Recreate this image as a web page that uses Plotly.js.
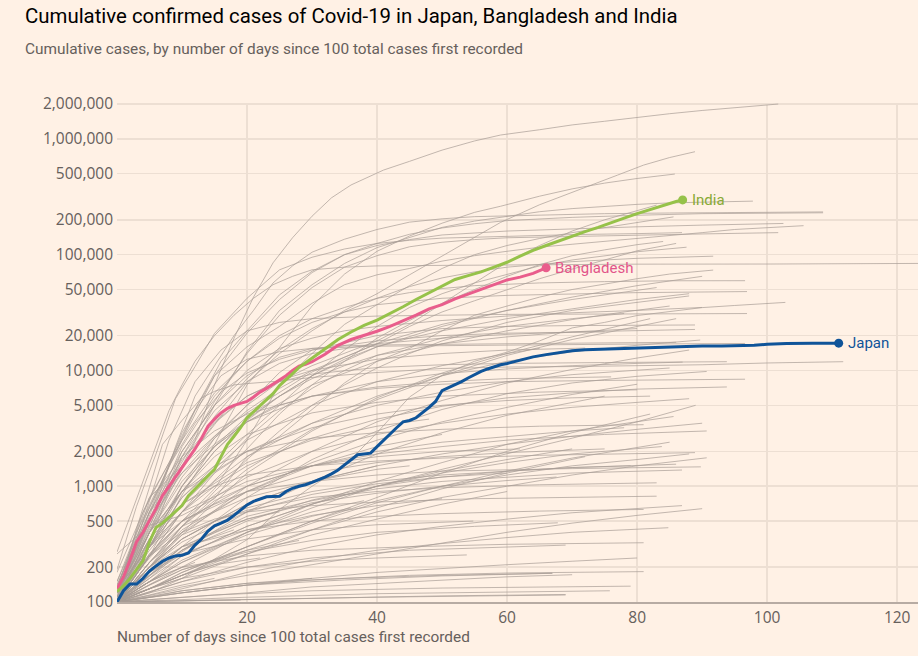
<!DOCTYPE html>
<html>
<head>
<meta charset="utf-8">
<script src="https://cdn.plot.ly/plotly-3.0.1.min.js"></script>
<style>html,body{margin:0;padding:0;background:#fff1e5;}#chart{width:918px;height:656px;}</style>
</head>
<body>
<div id="chart"></div>
<script>
// ---- Highlighted countries ----
const japanDays = [0,1,2,3,4,5,6,7,8,9,10,11,12,13,14,15,16,17,18,19,20,21,22,23,24,25,26,27,28,29,30,31,32,33,34,35,36,37,38,39,40,41,42,43,44,45,46,47,48,49,50,51,52,53,54,55,56,57,58,59,60,62,64,66,68,70,72,75,78,81,84,87,90,93,96,98,100,103,107,111];
const japanCases = [100,125,143,143,160,185,205,225,240,250,253,265,310,350,410,455,480,510,560,620,690,740,780,810,815,820,900,960,1000,1030,1080,1130,1200,1280,1380,1530,1700,1870,1900,1930,2200,2500,2850,3200,3600,3700,3900,4300,4800,5400,6700,7100,7500,8000,8600,9200,9800,10300,10800,11200,11500,12300,13100,13700,14200,14800,15100,15300,15600,15800,16000,16200,16250,16300,16300,16500,16800,17100,17150,17200];

const indiaDays = [0,1,2,3,4,5,6,7,8,9,10,11,12,13,14,15,16,17,18,19,20,21,22,23,24,25,26,27,28,30,32,34,36,38,40,42,44,46,48,50,52,54,56,58,60,62,64,66,68,70,72,74,76,78,80,82,84,86,87];
const indiaCases = [123,138,160,190,227,330,440,480,540,610,680,830,950,1070,1220,1400,1800,2300,2700,3200,3900,4400,5000,5600,6300,7400,8400,9400,10600,12700,15200,18500,21500,24500,27200,31000,35500,41000,47000,54000,61000,66000,71000,78000,86000,97000,109000,120000,132000,145000,158000,172000,190000,207000,226000,246000,266000,288000,297000];

const bangladeshDays = [0,1,2,3,4,5,6,7,8,9,10,11,12,13,14,15,16,17,18,19,20,21,22,23,24,25,26,27,28,29,30,32,34,36,38,40,42,44,46,48,50,52,54,56,58,60,62,64,66];
const bangladeshCases = [130,165,230,330,400,500,640,830,1000,1200,1450,1750,2100,2600,3300,3800,4300,4700,5000,5200,5400,5900,6500,7000,7600,8200,9000,10000,10900,11300,11900,13800,16500,18500,20000,21800,24000,26800,30000,34000,37000,41500,45500,50000,55000,60500,64000,69000,77000];

// ---- Background countries (grey) ----
const greyDays = [
 [0,3,6,9,12,15,18,21,24,27,30,33,36,41,45,50,55,59,65,70,75,80,85,90,95,101.7],
 [0,5,10,15,20,25,30,35,40,45,50,55,59,65,71,77,81,85,88.9],
 [0,5,10,15,20,25,30,35,40,45,50,55,59,65,70,75,80,85.8],
 [0,5,10,15,20,25,30,35,40,45,50,55,60,65,70,75,80,85,90,97.8],
 [0,3,6,9,12,15,18,21,24,27,30,35,40,45,50,55,65,75,85,95,108.6],
 [0,5,10,15,20,25,30,35,40,45,50,55,60,70,80,90,108.6],
 [0,4,8,12,16,20,25,30,35,40,45,50,60,70,80,90,102.5],
 [0,5,10,15,20,25,30,35,40,45,50,55,60,65,70,75,80,85,90,95,105.6],
 [0,5,10,15,20,25,30,35,40,45,50,55,60,70,80,90,101.7],
 [0,3,6,9,12,15,20,25,30,35,40,45,50,60,70,80,86.9],
 [0,2,4,6,8,10,12,15,18,21,24,27,30,35,40,50,60,80,100,123.2],
 [0,5,10,15,20,25,30,35,40,45,50,55,60,65,70,75,80,85.6],
 [0,5,10,15,20,25,30,35,40,45,50,55,60,65,70,75,80,83],
 [0,5,10,15,20,25,30,35,40,45,50,55,60,65,70,75,80,87.6],
 [0,5,10,15,20,25,30,35,40,45,50,55,60,70,80,91.7],
 [0,5,10,20,25,30,35,40,45,50,55,60,65,70,75,80,84],
 [0,5,10,15,20,25,30,35,40,45,50,55,60,65,70,75,80,86],
 [0,5,10,15,20,25,30,35,40,45,50,55,60,65,70,75,80,85,91.7],
 [0,5,10,15,20,25,30,35,40,45,50,55,65,75,85,96.6],
 [0,5,10,15,20,25,30,35,40,50,60,70,80,96.9],
 [0,10,20,25,30,35,40,45,50,55,60,65,70,75,80,85,90,95,102.8],
 [0,4,8,12,16,20,25,30,40,60,80,96.9],
 [0,3,5,7,10,13,15,18,20,25,30,40,50,60,70,80,90,100,111.7],
 [0,5,10,15,20,25,30,35,40,45,50,55,60,65,70,75,80,88],
 [0,5,10,15,20,25,30,35,40,50,60,70,80,90],
 [0,4,8,12,16,20,25,30,40,60,80,96.6],
 [0,5,10,15,20,25,30,35,40,60,86],
 [0,5,10,15,20,25,30,40,50,60,70,88.9],
 [0,5,10,15,20,25,30,40,50,60,70,88.9],
 [0,5,10,15,20,30,40,50,60,70,80,89.7],
 [0,5,10,15,20,25,30,35,40,45,50,60,70,80,88],
 [0,5,10,15,20,30,40,50,60,70,78,85],
 [0,5,10,20,30,40,50,60,70,82],
 [0,5,10,15,20,25,30,40,50,60,70,83],
 [0,5,10,15,20,30,40,50,60,70,80,90],
 [0,5,10,15,20,25,30,40,50,60,75,93.8],
 [0,5,10,15,20,30,40,50,60,70,80,90.7],
 [0,5,10,15,20,25,30,40,50,60,75,96.6],
 [0,5,10,15,20,30,40,50,60,70,80,93.8],
 [0,10,20,30,40,50,60,70,80,85.6],
 [0,5,10,15,20,30,40,50,65,81],
 [0,5,10,15,20,30,40,50,60,75,90.7],
 [0,5,10,20,30,40,50,60,70,83.8],
 [0,5,10,15,20,30,40,50,65,88.9],
 [0,10,20,30,40,50,60,70,80,90.7],
 [0,5,10,15,20,30,40,50,70,89.8],
 [0,5,10,20,30,40,50,60,70,86.9],
 [0,5,10,15,20,30,40,50,65,83],
 [0,5,10,15,20,30,40,55,83],
 [0,10,20,30,40,50,60,70,86.9],
 [0,5,10,20,30,40,50,65,81],
 [0,10,20,30,40,50,60,70,84.8],
 [0,5,10,20,30,45,60,81],
 [0,10,20,30,45,60,81],
 [0,15,30,50,79],
 [0,20,40,60,75.8],
 [0,10,20,35,50,67],
 [0,30,50,69],
 [0,19],
 [0,5,10,20,30,40,50,60,67.6],
 [0,5,10,20,30,40,55,67.8],
 [0,10,20,30,45,69],
 [0,10,20,35,50,66.9],
 [0,20,40,69],
 [0,5,10,20,30,40,53.8],
 [0,5,10,20,30,40,54.8],
 [0,5,10,15,20,30,40,50,60,70,80,88],
 [0,5,10,15,20,30,40,50,60,70,82],
 [0,5,10,20,30,40,50,60,70,85],
 [0,5,10,20,30,40,50,60,70,80],
 [0,5,10,20,30,40,50,60,75],
 [0,5,10,20,30,40,50,60,70,78],
 [0,5,10,20,30,40,50,60,72],
 [0,5,10,20,30,40,50,62],
 [0,5,10,20,30,40,50,60,70,80,89],
 [0,3,6,10,15,20,30,40,50,60,76],
 [0,5,10,15,20,30,40,50,65,80],
 [0,5,10,20,30,40,50,60,70,82],
 [0,5,10,20,30,40,50,60],
 [0,5,10,20,30,40,50],
 [0,5,10,20,30,40,45],
 [0,5,10,20,30,40],
 [0,5,10,20,30,36],
 [0,5,10,20,28],
 [0,5,10,15,22],
 [0,5,10,15],
 [0,4,8,12],
 [0,5,10,20,30],
 [0,5,10,20,30,40,50,60,70,80,90],
 [0,5,10,20,30,40,50,60,70,80,90],
 [0,10,20,30,40,50,60,70,80,88],
 [0,5,10,20,30,40,50,60,70,86],
 [0,5,10,20,30,40,50,60,75],
 [0,5,10,20,30,40,50,60],
 [0,5,10,20,30,40,50,60,70],
 [0,5,10,20,30,40,50],
 [0,5,10,20,30,40,48],
 [0,5,10,20,30,38],
 [0,5,10,15,20,25],
 [0,4,8,12,18],
 [0,5,10,20,30,40,50,60,70,80],
 [0,10,20,30,45,60,70],
 [0,5,10,20,30,40,50,60,70,79],
 [0,5,10,20,30,40,50,60,70,85],
 [0,5,10,15,20,25,30,35,40,50,60,70,80],
 [0,5,10,15,20,25,30,40,50,60,72],
 [0,4,8,12,16,20,25,30,40,50,60,75],
 [0,5,10,15,20,25,30,35,40,50,60,70,78],
 [0,5,10,15,20,30,40,50,60,70,80,87],
 [0,5,10,20,30,40,50,60,70,80,88],
 [0,5,10,20,30,40,50,60,65],
 [0,5,10,20,30,40,50,60,70,80,86]
];
const greyCases = [
 [100,200,450,1300,2500,7500,19000,43000,85000,140000,215000,310000,400000,538000,640000,800000,960000,1080000,1200000,1320000,1420000,1540000,1650000,1760000,1870000,2000000],
 [120,430,1500,3400,7900,14000,22000,33000,46000,67000,97000,140000,190000,270000,360000,487000,594000,690000,775000],
 [110,250,840,2300,7500,15800,36000,68000,107000,145000,187000,232000,262000,320000,370000,415000,455000,497000],
 [115,460,1500,5000,14500,33000,55000,84000,115000,140000,172000,195000,215000,235000,250000,262000,272000,280000,285000,290000],
 [120,280,700,2200,6000,11000,20000,33000,57000,80000,105000,136000,165000,191000,204000,213000,221000,226000,229000,232000,234000],
 [150,650,2500,9000,21000,41000,70000,100000,125000,150000,170000,185000,197000,210000,219000,226000,230000],
 [130,600,1600,4600,12000,22000,45000,72000,100000,120000,135000,148000,160000,168000,174000,180000,186000],
 [100,600,2900,9000,16000,24000,38000,55000,67000,76000,88000,98000,107000,116000,123000,130000,137000,145000,155000,165000,178000],
 [100,400,1800,5400,14000,30000,52000,78000,98000,117000,128000,135000,140000,144000,148000,151000,155000],
 [190,670,1900,5700,10800,20900,42000,74000,95000,112000,125000,133000,139000,145000,149000,152000,155000],
 [270,550,1100,2200,4500,7500,12000,20000,30000,42000,55000,65000,74000,78000,80000,80800,81500,82800,83000,84000],
 [110,260,500,950,2500,7500,14000,25000,37000,54000,76000,100000,120000,138000,155000,172000,190000,212000],
 [130,500,1300,2700,5000,8000,11000,14000,18000,25000,38000,57000,86000,120000,160000,200000,240000,268000],
 [130,300,800,1500,2800,5000,9000,15000,24000,35000,46000,57000,68000,80000,90000,98000,106000,116000],
 [100,400,1400,4000,8500,15000,23000,32000,42000,53000,63000,71000,78000,87000,93000,97000],
 [120,300,600,2100,4200,7500,12000,19000,27000,38000,50000,65000,82000,98000,110000,122000,130000],
 [180,800,1500,2700,4300,6500,9700,13000,17000,24000,32000,40000,50000,62000,75000,90000,108000,125000],
 [260,460,560,780,1800,2700,4600,7800,12000,15500,22000,30000,36000,43000,50000,56000,62000,68000,73600],
 [110,500,2200,6000,12000,20000,28000,35000,42000,47000,51000,54000,57000,58500,59500,59600],
 [130,800,2500,6400,12000,19000,26000,32000,37000,42000,44500,46000,47000,48000],
 [106,160,345,630,1000,1500,2900,5900,9100,12000,14400,18000,23300,26000,29800,32300,34900,36400,38700],
 [100,500,2500,8000,15000,22000,26000,28000,29500,30500,30800,31000],
 [104,430,980,2300,3700,5800,6600,7500,7700,8100,8700,9600,10400,10700,10800,11000,11200,11600,11900],
 [140,600,1300,2300,3700,6000,9000,12500,16000,19000,22000,25000,28000,31000,34000,37000,41000,46000],
 [110,600,2000,5000,10000,15500,19000,22000,24000,27000,29500,31500,33000,35000],
 [120,400,1500,4500,9000,12500,14500,15500,16200,16600,16900,17100],
 [100,450,2000,5000,9000,13000,15500,16300,16600,17000,17500],
 [130,300,1000,2600,5000,9600,15000,20000,23000,24000,24400,24700],
 [120,500,1800,4500,8000,11500,14000,17000,19000,20500,21500,22600],
 [100,250,600,1100,1800,3500,6000,9000,12000,14500,16500,18300],
 [100,200,450,900,1700,3000,5000,7500,10500,14000,18000,26000,33000,39000,44000],
 [120,350,900,2000,3600,7500,12000,17000,22000,27500,32000,36000],
 [100,200,400,1300,3000,5800,9500,14000,19500,28000],
 [100,400,1200,2600,4500,7000,10000,17000,25000,33000,41000,52000],
 [100,300,1000,2200,4000,9000,16000,24000,33000,43000,54000,65000],
 [140,600,1700,3600,6000,8000,9300,10600,11200,11500,11700,11900],
 [100,170,300,500,800,1700,3000,4600,6300,7800,8900,9800],
 [100,350,1000,2200,3600,5000,6000,7000,7600,8000,8200,8400],
 [110,280,600,1000,1500,2600,3800,4900,5800,6400,6900,7200],
 [100,200,400,700,1100,1600,2300,3000,3600,4000],
 [120,400,900,1500,2000,2600,2900,3100,3300,3400],
 [100,220,450,750,1000,1500,1900,2200,2500,2800,3000],
 [100,150,250,450,700,1000,1300,1600,1900,2200],
 [110,350,700,1000,1250,1500,1650,1750,1850,1950],
 [100,170,280,420,600,800,1000,1250,1500,1760],
 [130,300,500,700,900,1100,1250,1350,1420,1470],
 [100,180,300,550,750,950,1100,1200,1300,1380],
 [100,200,350,500,620,800,900,970,1030,1070],
 [100,250,400,520,600,680,730,780,820],
 [100,150,220,300,380,450,520,590,680],
 [110,200,300,420,500,550,580,610,630],
 [100,130,180,230,280,320,360,400,438],
 [100,150,200,250,280,300,315,325],
 [100,120,140,155,170,178,183],
 [100,115,125,132,137],
 [100,110,118,122,125],
 [100,125,145,160,170,177],
 [100,108,113,116],
 [100,104],
 [100,180,300,520,720,870,1000,1120,1200],
 [100,140,190,270,340,400,450,483],
 [100,150,200,240,280,310],
 [100,120,140,155,168,177],
 [100,105,110,115],
 [100,130,160,200,225,240,255],
 [100,180,260,350,420,465,500],
 [100,220,450,800,1200,2000,2800,3500,4200,4800,5300,5700],
 [100,300,700,1300,2000,3200,4200,5000,5500,5800,6000],
 [120,400,900,2000,3500,5000,6500,8000,9200,10500],
 [100,200,400,900,1600,2500,3600,4800,6200,7600],
 [100,160,280,600,1100,1900,2900,4100,6000],
 [100,250,500,1000,1500,2000,2400,2700,3000,3200],
 [100,120,160,260,420,650,950,1300,1800],
 [100,300,600,1100,1500,1800,2000,2100],
 [100,150,230,400,650,1000,1400,1900,2600,3600,5000],
 [150,400,900,1800,3000,4200,6000,7200,8000,8500,8800],
 [100,350,900,1800,2800,4300,5300,6000,6500,6800],
 [100,130,180,300,500,800,1300,2000,2900,4200],
 [100,200,330,600,850,1050,1200,1300],
 [100,170,260,420,560,680,780],
 [100,250,450,800,1100,1400,1500],
 [100,200,350,700,1100,1500],
 [100,150,220,380,550,650],
 [100,140,190,280,340],
 [100,130,170,210,240],
 [100,120,140,160],
 [100,140,180,220],
 [100,110,125,145,160],
 [100,115,135,170,210,260,320,400,480,560,640],
 [100,200,350,700,1100,1500,1900,2300,2700,3100,3500],
 [100,170,300,500,750,1000,1250,1500,1700,1900],
 [100,220,380,650,900,1100,1250,1350,1450,1550],
 [100,260,500,900,1300,1600,1800,1950,2100],
 [100,130,170,260,380,520,700,900],
 [100,160,250,450,700,1000,1350,1700,2100],
 [100,220,420,900,1500,2200,2800],
 [100,300,700,1600,2500,3300,3800],
 [100,150,220,400,600,750],
 [100,180,280,400,520,600],
 [100,150,230,320,420],
 [100,110,120,140,160,180,195,210,225,240],
 [100,110,120,135,150,165,172],
 [100,170,280,500,760,1000,1200,1350,1450,1500],
 [100,130,180,300,480,720,1000,1350,1750,2400],
 [100,300,900,2000,3800,6000,8500,11000,13500,17000,19500,21500,23000],
 [100,500,1500,3500,6000,8200,10000,12500,14000,15000,15600],
 [130,500,1500,3500,6500,9500,12500,15000,18000,20000,21000,21500],
 [100,250,600,1300,2600,4500,7000,10000,13500,19000,24000,28000,31000],
 [100,400,1100,2200,3600,6000,8000,9400,10300,11000,11500,11800],
 [100,200,380,1000,2000,3600,5500,7800,10200,12800,15000],
 [100,300,800,2500,5000,8000,11000,14000,15500],
 [110,240,500,1400,3100,5600,9000,13500,18500,24000,28000]
];

// ---- Axes text ----
const xTickVals = [20,40,60,80,100,120];
const yTickVals = [100,200,500,1000,2000,5000,10000,20000,50000,100000,200000,500000,1000000,2000000];
const yTickText = ['100','200','500','1,000','2,000','5,000','10,000','20,000','50,000','100,000','200,000','500,000','1,000,000','2,000,000'];

const titleText = 'Cumulative confirmed cases of Covid-19 in Japan, Bangladesh and India';
const subtitleText = 'Cumulative cases, by number of days since 100 total cases first recorded';
const xTitleText = 'Number of days since 100 total cases first recorded';

const FONT = 'Roboto, "Open Sans", sans-serif';
const TICKFONT = '"Open Sans", Roboto, sans-serif';
const GREY = 'rgba(168,157,149,0.7)';
const highlights = [
  {name:'Japan', days:japanDays, cases:japanCases, color:'#0f5499', label:'#0f5499'},
  {name:'Bangladesh', days:bangladeshDays, cases:bangladeshCases, color:'#e95d8c', label:'#e2558a'},
  {name:'India', days:indiaDays, cases:indiaCases, color:'#96c24a', label:'#88aa36'}
];

const traces = [];
for (let i = 0; i < greyDays.length; i++) {
  traces.push({x: greyDays[i], y: greyCases[i], type:'scatter', mode:'lines',
    line:{color:GREY, width:1}, hoverinfo:'skip'});
}
const annotations = [];
highlights.forEach(h => {
  traces.push({x:h.days, y:h.cases, type:'scatter', mode:'lines',
    line:{color:h.color, width:3}, hoverinfo:'skip'});
  const lx = h.days[h.days.length-1], ly = h.cases[h.cases.length-1];
  traces.push({x:[lx], y:[ly], type:'scatter', mode:'markers',
    marker:{color:h.color, size:9}, hoverinfo:'skip'});
  annotations.push({x:lx, y:Math.log10(ly), xref:'x', yref:'y', text:h.name, showarrow:false,
    xanchor:'left', yanchor:'middle', xshift:7, font:{family:FONT, size:15, color:h.label}});
});

annotations.push({x:(25-117)/801, y:(602-49)/499, xref:'paper', yref:'paper', text:subtitleText,
  showarrow:false, xanchor:'left', yanchor:'middle', xshift:-2, font:{family:FONT, size:15.4, color:'#66605c'}});
annotations.push({x:0, y:(602-637)/499, xref:'paper', yref:'paper', text:xTitleText,
  showarrow:false, xanchor:'left', yanchor:'middle', xshift:-2, font:{family:FONT, size:15.4, color:'#66605c'}});

const layout = {
  width:918, height:656,
  paper_bgcolor:'#fff1e5', plot_bgcolor:'#fff1e5',
  margin:{l:117, r:0, t:103, b:54},
  showlegend:false, hovermode:false,
  title:{text:titleText, x:25/918, xref:'container', xanchor:'left', y:1-16/656, yref:'container', yanchor:'middle',
    font:{family:FONT, size:20.4, color:'#000000'}},
  xaxis:{range:[0,123.2], tickvals:xTickVals, showgrid:true, gridcolor:'#eddfd3', gridwidth:1.5,
    zeroline:false, showline:true, linecolor:'#b7aba3', linewidth:2, ticks:'',
    tickfont:{family:TICKFONT, size:15.5, color:'#66605c'}, fixedrange:true},
  yaxis:{type:'log', range:[2,6.31], tickvals:yTickVals, ticktext:yTickText, showgrid:true,
    gridcolor:'#eddfd3', gridwidth:1.5, zeroline:false, showline:false, ticks:'', ticklabelstandoff:3,
    tickfont:{family:TICKFONT, size:15.5, color:'#66605c'}, fixedrange:true},
  annotations:annotations
};

Plotly.newPlot('chart', traces, layout, {displayModeBar:false, staticPlot:true});
</script>
</body>
</html>
